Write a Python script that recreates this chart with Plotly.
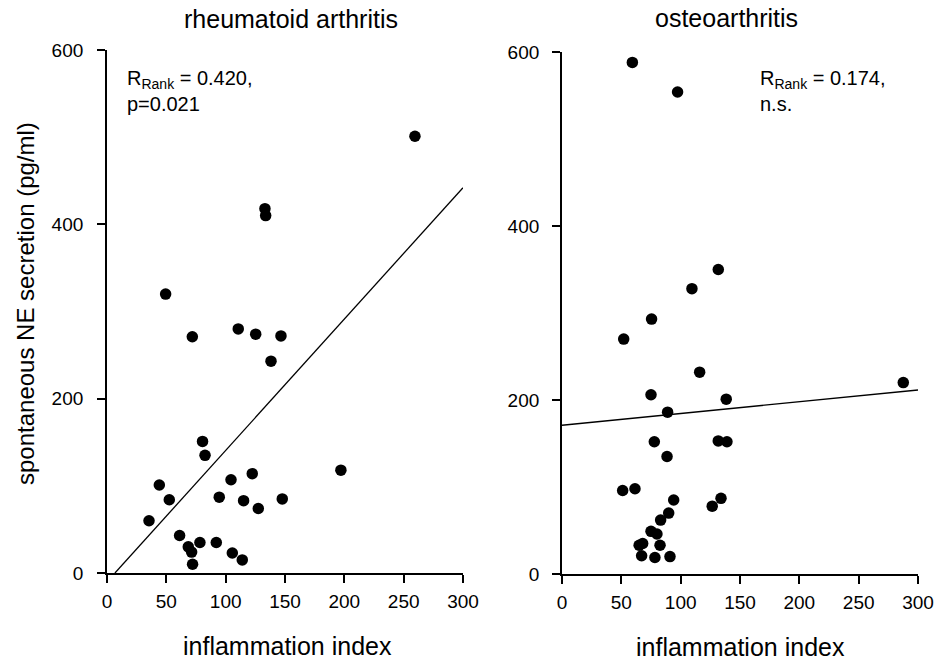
import plotly.graph_objects as go

# ---------------- data ----------------
ra_index = [259.5, 133.1, 133.7, 49.4, 110.6, 71.9, 125.3, 146.6, 138.2, 80.5,
            82.6, 197.1, 122.4, 104.5, 44.1, 52.5, 94.6, 115.1, 147.7, 127.5,
            35.4, 61.2, 68.5, 71.3, 78.3, 92.1, 105.6, 114.0, 72.1]
ra_ne = [501, 418, 410, 320, 280, 271, 274, 272, 243, 151,
         135, 118, 114, 107, 101, 84, 87, 83, 85, 74,
         60, 43, 30, 24, 35, 35, 23, 15, 10]

oa_index = [59.3, 97.4, 131.7, 109.5, 75.5, 52.0, 116.0, 287.6, 75.0, 138.4,
            89.0, 77.8, 131.7, 139.0, 88.5, 51.1, 61.5, 94.1, 134.0, 126.6,
            89.9, 83.1, 75.0, 80.0, 65.0, 68.0, 82.6, 67.1, 78.3, 91.0]
oa_ne = [588, 554, 350, 328, 293, 270, 232, 220, 206, 201,
         186, 152, 153, 152, 135, 96, 98, 85, 87, 78,
         70, 62, 49, 46, 33, 35, 33, 21, 19, 20]

# regression line end points
ra_fit_x = [6.7, 300]
ra_fit_y = [0, 442]
oa_fit_x = [0, 300]
oa_fit_y = [171, 211.5]

tick_vals_x = [0, 50, 100, 150, 200, 250, 300]
tick_vals_y = [0, 200, 400, 600]

titles = ["rheumatoid arthritis", "osteoarthritis"]
stats = ["R<sub>Rank</sub> = 0.420,<br>p=0.021", "R<sub>Rank</sub> = 0.174,<br>n.s."]
x_title = "inflammation index"
y_title = "spontaneous NE secretion (pg/ml)"

# ---------------- figure ----------------
W, H = 937, 661
FONT = "Liberation Sans, Arial, Helvetica, sans-serif"


def px(x):
    return x / W


def py(y):
    return 1 - y / H


fig = go.Figure()

marker = dict(color="black", size=11.5, line=dict(width=0))
fig.add_trace(go.Scatter(x=ra_index, y=ra_ne, mode="markers", marker=marker,
                         xaxis="x", yaxis="y", showlegend=False, cliponaxis=False))
fig.add_trace(go.Scatter(x=ra_fit_x, y=ra_fit_y, mode="lines",
                         line=dict(color="black", width=1.3),
                         xaxis="x", yaxis="y", showlegend=False))
fig.add_trace(go.Scatter(x=oa_index, y=oa_ne, mode="markers", marker=marker,
                         xaxis="x2", yaxis="y2", showlegend=False, cliponaxis=False))
fig.add_trace(go.Scatter(x=oa_fit_x, y=oa_fit_y, mode="lines",
                         line=dict(color="black", width=1.3),
                         xaxis="x2", yaxis="y2", showlegend=False))

axis_common = dict(showgrid=False, zeroline=False, showline=True, automargin=False,
                   linecolor="black", linewidth=1.8, ticks="outside",
                   ticklen=8, tickwidth=1.5, tickcolor="black",
                   tickfont=dict(family=FONT, size=19, color="black"),
                   fixedrange=True)

fig.update_layout(
    template="none",
    width=W, height=H,
    margin=dict(l=0, r=0, t=0, b=0, pad=0, autoexpand=False),
    paper_bgcolor="white", plot_bgcolor="white",
    font=dict(family=FONT, color="black"),
    showlegend=False,
    xaxis=dict(domain=[px(107), px(463)], range=[0, 300], tickvals=tick_vals_x,
               anchor="y", ticklabelstandoff=2, **axis_common),
    yaxis=dict(domain=[py(573), py(50)], range=[0, 600], tickvals=tick_vals_y,
               anchor="x", ticklabelstandoff=10, **axis_common),
    xaxis2=dict(domain=[px(562), px(918)], range=[0, 300], tickvals=tick_vals_x,
                anchor="y2", ticklabelstandoff=2, **axis_common),
    yaxis2=dict(domain=[py(574), py(52)], range=[0, 600], tickvals=tick_vals_y,
                anchor="x2", ticklabelstandoff=9, **axis_common),
)

ann = []
# panel titles
ann.append(dict(text=titles[0], x=px(291), y=py(19), xref="paper", yref="paper",
                showarrow=False, xanchor="center", yanchor="middle",
                font=dict(family=FONT, size=25, color="black")))
ann.append(dict(text=titles[1], x=px(726), y=py(18), xref="paper", yref="paper",
                showarrow=False, xanchor="center", yanchor="middle",
                font=dict(family=FONT, size=25, color="black")))
# x-axis titles
ann.append(dict(text=x_title, x=px(287), y=py(646), xref="paper", yref="paper",
                showarrow=False, xanchor="center", yanchor="middle",
                font=dict(family=FONT, size=25, color="black")))
ann.append(dict(text=x_title, x=px(740), y=py(647), xref="paper", yref="paper",
                showarrow=False, xanchor="center", yanchor="middle",
                font=dict(family=FONT, size=25, color="black")))
# y-axis title
ann.append(dict(text=y_title, x=px(25), y=py(304), xref="paper", yref="paper",
                showarrow=False, xanchor="center", yanchor="middle", textangle=-90,
                font=dict(family=FONT, size=24, color="black")))
# statistics
ann.append(dict(text=stats[0], x=px(125), y=py(65), xref="paper", yref="paper",
                showarrow=False, xanchor="left", yanchor="top", align="left",
                font=dict(family=FONT, size=20, color="black")))
ann.append(dict(text=stats[1], x=px(758), y=py(65), xref="paper", yref="paper",
                showarrow=False, xanchor="left", yanchor="top", align="left",
                font=dict(family=FONT, size=20, color="black")))

fig.update_layout(annotations=ann)

fig.write_html("out.html")
